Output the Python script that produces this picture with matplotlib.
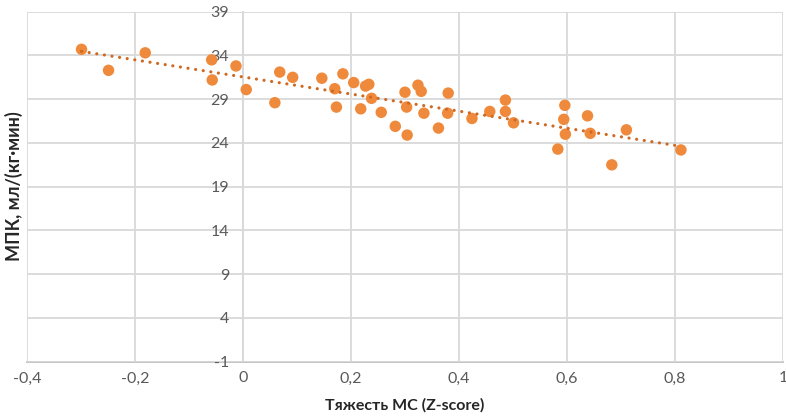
import numpy as np
import matplotlib
matplotlib.use("Agg")
import matplotlib.pyplot as plt

plt.rcParams['font.family'] = ['Lato', 'DejaVu Sans']
plt.rcParams['axes.unicode_minus'] = False

# Data
severity_z = [-0.299, -0.249, -0.181, -0.058, -0.057, -0.013, 0.006, 0.059, 0.068, 0.092,
              0.146, 0.170, 0.173, 0.185, 0.205, 0.218, 0.227, 0.233, 0.238, 0.256,
              0.282, 0.300, 0.303, 0.304, 0.324, 0.330, 0.335, 0.362, 0.380, 0.379,
              0.424, 0.457, 0.486, 0.486, 0.501, 0.583, 0.596, 0.594, 0.597, 0.638,
              0.643, 0.683, 0.710, 0.811]
vo2max = [34.7, 32.3, 34.3, 33.5, 31.2, 32.8, 30.1, 28.6, 32.1, 31.5,
          31.4, 30.2, 28.1, 31.9, 30.9, 27.9, 30.5, 30.7, 29.1, 27.5,
          25.9, 29.8, 28.1, 24.9, 30.6, 29.9, 27.4, 25.7, 29.7, 27.4,
          26.8, 27.6, 28.9, 27.6, 26.3, 23.3, 28.3, 26.7, 25.0, 27.1,
          25.1, 21.5, 25.5, 23.2]

x_ticks = [-0.4, -0.2, 0, 0.2, 0.4, 0.6, 0.8, 1.0]
x_tick_labels = ["-0,4", "-0,2", "0", "0,2", "0,4", "0,6", "0,8", "1"]
y_ticks = [-1, 4, 9, 14, 19, 24, 29, 34, 39]
y_tick_labels = ["-1", "4", "9", "14", "19", "24", "29", "34", "39"]

x_label = "Тяжесть МС (Z-score)"
y_label = "МПК, мл/(кг·мин)"

fig = plt.figure(figsize=(7.86, 4.17), dpi=100)
ax = fig.add_axes([27/786, 1 - 361.7/417, (783 - 27)/786, (361.7 - 11.7)/417])

grid_c = "#D9D9D9"
ax.set_xlim(-0.4, 1.0)
ax.set_ylim(-1, 39)
ax.set_xticks(x_ticks)
ax.set_xticklabels(x_tick_labels)
ax.set_yticks(y_ticks)
ax.set_yticklabels(y_tick_labels)
ax.grid(True, color=grid_c, linewidth=1.3, zorder=0)
ax.set_axisbelow(True)

for s in ["top", "right"]:
    ax.spines[s].set_visible(False)
ax.spines["left"].set_position(("data", 0))
ax.spines["left"].set_color(grid_c)
ax.spines["left"].set_linewidth(1.3)
ax.spines["left"].set_zorder(0.5)
ax.spines["bottom"].set_color("#BFBFBF")
ax.spines["bottom"].set_linewidth(1.3)
ax.spines["bottom"].set_zorder(0.5)

ax.tick_params(axis="both", length=0, labelsize=11.5, labelcolor="#595959")
ax.tick_params(axis="y", pad=10)
ax.tick_params(axis="x", pad=7)
for lbl in ax.get_yticklabels():
    lbl.set_zorder(5)

ax.scatter(severity_z, vo2max, s=68, color="#EF8A3C", edgecolors="none", zorder=3)

# Linear trend line (as in spreadsheet "linear trendline")
xs = np.array(severity_z)
ys = np.array(vo2max)
k, b = np.polyfit(xs, ys, 1)
xl = np.array([xs.min(), xs.max()])
ax.plot(xl, k * xl + b, linestyle=(0, (0.01, 2.4)), color="#CF6820", linewidth=2.3,
        dash_capstyle="round", solid_capstyle="round", zorder=4)

fig.text(405/786, 1 - 405/417, x_label, ha="center", va="center",
         fontsize=11.5, fontweight="bold", color="#262626")
fig.text(14/786, 1 - 186/417, y_label, ha="center", va="center", rotation=90,
         fontsize=13, fontweight="bold", color="#262626")

fig.savefig("out.png", dpi=100)
